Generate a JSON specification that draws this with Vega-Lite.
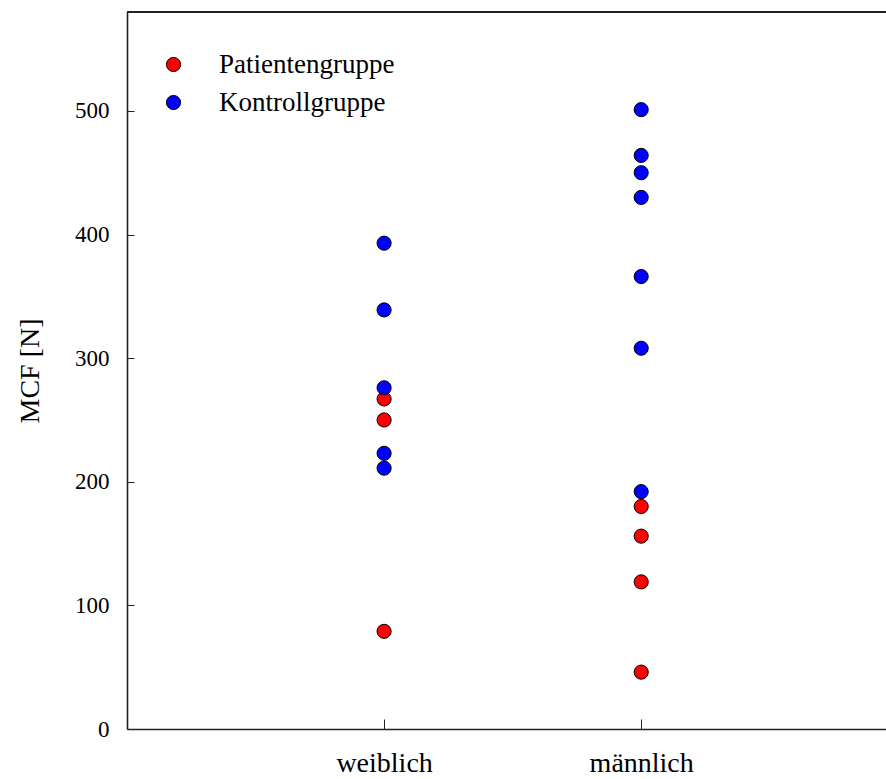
{
  "$schema": "https://vega.github.io/schema/vega-lite/v6.json",
  "width": 797,
  "height": 717,
  "autosize": {"type": "none"},
  "padding": {"left": 127, "top": 12, "right": 0, "bottom": 50},
  "background": "white",
  "data": {
    "values": [
      {"geschlecht": "weiblich", "pos": 1, "gruppe": "Patientengruppe", "mcf": 267},
      {"geschlecht": "weiblich", "pos": 1, "gruppe": "Patientengruppe", "mcf": 250},
      {"geschlecht": "weiblich", "pos": 1, "gruppe": "Patientengruppe", "mcf": 79},
      {"geschlecht": "weiblich", "pos": 1, "gruppe": "Kontrollgruppe", "mcf": 393},
      {"geschlecht": "weiblich", "pos": 1, "gruppe": "Kontrollgruppe", "mcf": 339},
      {"geschlecht": "weiblich", "pos": 1, "gruppe": "Kontrollgruppe", "mcf": 276},
      {"geschlecht": "weiblich", "pos": 1, "gruppe": "Kontrollgruppe", "mcf": 223},
      {"geschlecht": "weiblich", "pos": 1, "gruppe": "Kontrollgruppe", "mcf": 211},
      {"geschlecht": "männlich", "pos": 2, "gruppe": "Patientengruppe", "mcf": 180},
      {"geschlecht": "männlich", "pos": 2, "gruppe": "Patientengruppe", "mcf": 156},
      {"geschlecht": "männlich", "pos": 2, "gruppe": "Patientengruppe", "mcf": 119},
      {"geschlecht": "männlich", "pos": 2, "gruppe": "Patientengruppe", "mcf": 46},
      {"geschlecht": "männlich", "pos": 2, "gruppe": "Kontrollgruppe", "mcf": 501},
      {"geschlecht": "männlich", "pos": 2, "gruppe": "Kontrollgruppe", "mcf": 464},
      {"geschlecht": "männlich", "pos": 2, "gruppe": "Kontrollgruppe", "mcf": 450},
      {"geschlecht": "männlich", "pos": 2, "gruppe": "Kontrollgruppe", "mcf": 430},
      {"geschlecht": "männlich", "pos": 2, "gruppe": "Kontrollgruppe", "mcf": 366},
      {"geschlecht": "männlich", "pos": 2, "gruppe": "Kontrollgruppe", "mcf": 308},
      {"geschlecht": "männlich", "pos": 2, "gruppe": "Kontrollgruppe", "mcf": 192}
    ]
  },
  "config": {
    "font": "Liberation Serif",
    "view": {"stroke": null},
    "axis": {
      "domainColor": "#222",
      "domainWidth": 1.6,
      "tickColor": "#222",
      "grid": false,
      "labelFont": "Liberation Serif",
      "labelColor": "black",
      "titleFont": "Liberation Serif",
      "titleColor": "black",
      "titleFontWeight": "normal"
    }
  },
  "layer": [
    {
      "mark": {"type": "rule", "color": "#222", "strokeWidth": 1.6},
      "encoding": {"y": {"datum": 580, "type": "quantitative"}}
    },
    {
      "mark": {"type": "point", "shape": "circle", "filled": true, "size": 200, "stroke": "black", "strokeWidth": 1, "opacity": 1},
      "encoding": {
        "x": {
          "field": "pos",
          "type": "quantitative",
          "scale": {"domain": [0, 3.1], "nice": false},
          "axis": {
            "values": [1, 2],
            "labelExpr": "datum.value == 1 ? 'weiblich' : 'männlich'",
            "labelFontSize": 28,
            "tickSize": -10,
            "labelPadding": 30,
            "title": null
          }
        },
        "y": {
          "field": "mcf",
          "type": "quantitative",
          "scale": {"domain": [0, 580], "nice": false},
          "axis": {
            "values": [0, 100, 200, 300, 400, 500],
            "labelFontSize": 23,
            "tickSize": -7,
            "labelPadding": 25,
            "title": "MCF [N]",
            "titleFontSize": 28,
            "titlePadding": 30
          }
        },
        "color": {
          "field": "gruppe",
          "type": "nominal",
          "scale": {"domain": ["Patientengruppe", "Kontrollgruppe"], "range": ["#ff0000", "#0000ff"]},
          "legend": {
            "title": null,
            "orient": "none",
            "legendX": 33,
            "legendY": 39,
            "symbolType": "circle",
            "symbolSize": 200,
            "symbolStrokeColor": "black",
            "symbolStrokeWidth": 1,
            "symbolOpacity": 1,
            "labelFont": "Liberation Serif",
            "labelFontSize": 27,
            "labelLimit": 0,
            "labelColor": "black",
            "labelOffset": 32,
            "rowPadding": 10
          }
        }
      }
    }
  ]
}
